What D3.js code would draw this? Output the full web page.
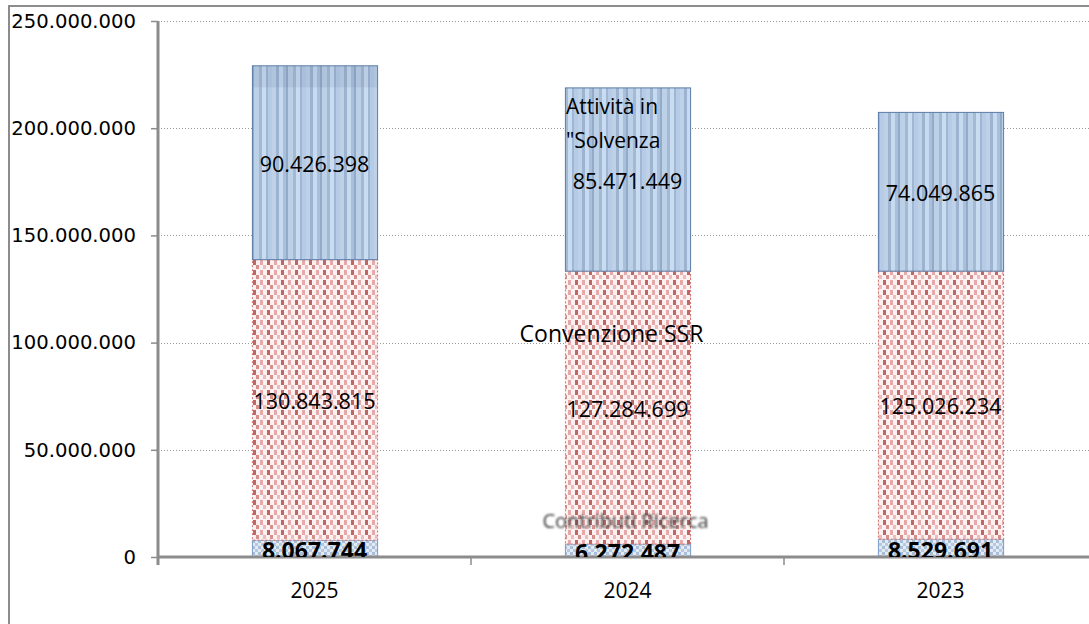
<!DOCTYPE html>
<html>
<head>
<meta charset="utf-8">
<script src="https://cdn.jsdelivr.net/npm/d3@7"></script>
<style>
  body { margin: 0; background: #fff; }
  svg { display: block; }
</style>
</head>
<body>
<div id="chart"></div>
<script>
var width = 1089;
var height = 624;

// data
var years = ["2025", "2024", "2023"];
var ricerca = [8067744, 6272487, 8529691];        // Contributi Ricerca
var convenzione = [130843815, 127284699, 125026234]; // Convenzione SSR
var solvenza = [90426398, 85471449, 74049865];     // Attività in "Solvenza
var seriesKeys = ["ricerca", "convenzione", "solvenza"];
var yTicks = [0, 50000000, 100000000, 150000000, 200000000, 250000000];

var itLocale = d3.formatLocale({decimal: ",", thousands: ".", grouping: [3], currency: ["", " €"]});
var fmt = itLocale.format(",d");

var rows = years.map(function(y, i) {
  return {year: y, ricerca: ricerca[i], convenzione: convenzione[i], solvenza: solvenza[i]};
});
var stacked = d3.stack().keys(seriesKeys)(rows);

var plotTop = 21, plotBottom = 557, plotLeft = 158, plotRight = 1097;

var y = d3.scaleLinear().domain([0, 250000000]).range([plotBottom, plotTop]);
var x = d3.scaleBand().domain(years).range([plotLeft, plotRight]).paddingInner(0.6).paddingOuter(0.3);

var svg = d3.select("#chart").append("svg").attr("width", width).attr("height", height);
var defs = svg.append("defs");

// vertical stripes for the top series
var stripes = defs.append("pattern").attr("id", "pStripes").attr("patternUnits", "userSpaceOnUse")
  .attr("width", 34).attr("height", 10);
var stripeCols = ["#bed1e8", "#9cb4cf", "#c8daf0", "#a9c0dc", "#93abc7", "#bcd0e8", "#a4bad3", "#cadcf1", "#9fb7d2", "#b6cbe5"];
var stripeW = [4, 3, 4, 3, 2, 5, 3, 4, 2, 4];
var sx = 0;
stripeCols.forEach(function(c, i) {
  stripes.append("rect").attr("x", sx).attr("y", 0).attr("width", stripeW[i]).attr("height", 10).attr("fill", c);
  sx += stripeW[i];
});

// red dotted grid for the middle series
var dots = defs.append("pattern").attr("id", "pDots").attr("patternUnits", "userSpaceOnUse")
  .attr("width", 14).attr("height", 10);
dots.append("rect").attr("width", 14).attr("height", 10).attr("fill", "#fcf0f0");
dots.append("rect").attr("x", 1).attr("y", 0).attr("width", 3).attr("height", 5).attr("fill", "#bd6664");
dots.append("rect").attr("x", 8).attr("y", 0).attr("width", 3).attr("height", 5).attr("fill", "#e4a9a8");
dots.append("rect").attr("x", 4).attr("y", 5).attr("width", 3).attr("height", 4).attr("fill", "#d58f8d");
dots.append("rect").attr("x", 11).attr("y", 5).attr("width", 3).attr("height", 4).attr("fill", "#ebbcbb");

// small checker for the bottom series
var check = defs.append("pattern").attr("id", "pCheck").attr("patternUnits", "userSpaceOnUse")
  .attr("width", 6).attr("height", 6);
check.append("rect").attr("width", 6).attr("height", 6).attr("fill", "#e2ebf5");
check.append("rect").attr("width", 3).attr("height", 3).attr("fill", "#a9bdd6");
check.append("rect").attr("x", 3).attr("y", 3).attr("width", 3).attr("height", 3).attr("fill", "#b7c9de");

var blur = defs.append("filter").attr("id", "fBlur");
blur.append("feGaussianBlur").attr("stdDeviation", 0.8);

defs.append("clipPath").attr("id", "plotClip").append("rect")
  .attr("x", plotLeft).attr("y", 0).attr("width", width).attr("height", plotBottom);

var fills = {ricerca: "url(#pCheck)", convenzione: "url(#pDots)", solvenza: "url(#pStripes)"};
var strokes = {ricerca: "#7c9cc6", convenzione: "#d0706d", solvenza: "#5a7ca6"};
var dashes = {ricerca: null, convenzione: "2,2", solvenza: null};

// outer frame
svg.append("rect").attr("x", 9).attr("y", 6).attr("width", width + 20).attr("height", height + 20)
  .attr("fill", "none").attr("stroke", "#8c8c8c").attr("stroke-width", 2);

// grid lines
svg.append("g").selectAll("line").data(yTicks.slice(1)).join("line")
  .attr("x1", plotLeft).attr("x2", width)
  .attr("y1", function(d) { return Math.round(y(d)) + 0.5; })
  .attr("y2", function(d) { return Math.round(y(d)) + 0.5; })
  .attr("stroke", "#999").attr("stroke-width", 1).attr("stroke-dasharray", "1,2");

// bars
var layers = svg.append("g").selectAll("g").data(stacked).join("g");
layers.selectAll("rect").data(function(d) { return d.map(function(v) { return {key: d.key, v: v}; }); }).join("rect")
  .attr("x", function(d) { return x(d.v.data.year) + 0.5; })
  .attr("y", function(d) { return y(d.v[1]) + 0.5; })
  .attr("width", x.bandwidth())
  .attr("height", function(d) { return y(d.v[0]) - y(d.v[1]); })
  .attr("fill", function(d) { return fills[d.key]; })
  .attr("stroke", function(d) { return strokes[d.key]; })
  .attr("stroke-dasharray", function(d) { return dashes[d.key]; })
  .attr("stroke-width", 1);

// darker cap on the first top segment
svg.append("rect")
  .attr("x", x(years[0]) + 1).attr("y", y(stacked[2][0][1]) + 1)
  .attr("width", x.bandwidth() - 1).attr("height", 21)
  .attr("fill", "#4f6f96").attr("opacity", 0.12);

// axes
var yAxis = svg.append("g").attr("transform", "translate(" + plotLeft + ",0)")
  .call(d3.axisLeft(y).tickValues(yTicks).tickFormat(fmt).tickSize(7).tickPadding(15));
yAxis.select(".domain").attr("stroke", "#8c8c8c").attr("stroke-width", 3)
  .attr("d", "M0," + plotTop + "V" + (plotBottom + 8));
yAxis.selectAll(".tick line").attr("stroke", "#8c8c8c").attr("stroke-width", 1.5);
yAxis.selectAll(".tick text").attr("fill", "#000").attr("font-family", "DejaVu Sans")
  .attr("font-size", "19.6px");

var xAxis = svg.append("g").attr("transform", "translate(0," + plotBottom + ")")
  .call(d3.axisBottom(x).tickSize(0).tickPadding(26));
xAxis.select(".domain").attr("stroke", "#8c8c8c").attr("stroke-width", 3)
  .attr("d", "M" + plotLeft + ",0H" + width);
xAxis.selectAll(".tick text").attr("fill", "#000").attr("font-family", "Open Sans")
  .attr("font-size", "21px");
xAxis.append("g").selectAll("line").data([plotLeft, plotLeft + x.step(), plotLeft + 2 * x.step()]).join("line")
  .attr("x1", function(d) { return d; }).attr("x2", function(d) { return d; })
  .attr("y1", 0).attr("y2", 8).attr("stroke", "#8c8c8c").attr("stroke-width", 1.5);

// value labels
var labels = svg.append("g").attr("clip-path", "url(#plotClip)")
  .attr("font-family", "Open Sans").attr("text-anchor", "middle").attr("fill", "#000");
stacked.forEach(function(layer) {
  labels.selectAll(null).data(layer).join("text")
    .attr("x", function(d) { return x(d.data.year) + x.bandwidth() / 2; })
    .attr("y", function(d) {
      var mid = (y(d[0]) + y(d[1])) / 2;
      return layer.key === "ricerca" ? mid + 3 : mid + 2;
    })
    .attr("dy", "0.35em")
    .attr("font-size", layer.key === "ricerca" ? "23px" : "21.5px")
    .attr("font-weight", layer.key === "ricerca" ? "bold" : null)
    .text(function(d) { return fmt(d[1] - d[0]); });
});

// series names placed on the 2024 bar
var c24 = x("2024");
var seg24 = stacked.map(function(l) { return l[1]; });
var names = svg.append("g").attr("font-family", "Open Sans").attr("fill", "#000");
names.append("text").attr("x", c24 + 1).attr("y", (y(seg24[2][0]) + y(seg24[2][1])) / 2 - 72)
  .attr("dy", "0.35em").attr("font-size", "21px").text("Attività in");
names.append("text").attr("x", c24 + 1).attr("y", (y(seg24[2][0]) + y(seg24[2][1])) / 2 - 38)
  .attr("dy", "0.35em").attr("font-size", "21px").text("\"Solvenza");
names.append("text").attr("x", c24 + x.bandwidth() / 2 - 16).attr("y", (y(seg24[1][0]) + y(seg24[1][1])) / 2 - 73)
  .attr("dy", "0.35em").attr("text-anchor", "middle").attr("font-size", "23px").text("Convenzione SSR");
names.append("text").attr("x", c24 + x.bandwidth() / 2 - 2).attr("y", y(seg24[0][1]) - 23)
  .attr("dy", "0.35em").attr("text-anchor", "middle").attr("fill", "#3e3e3e")
  .attr("font-size", "20px").attr("filter", "url(#fBlur)").text("Contributi Ricerca");
</script>
</body>
</html>
